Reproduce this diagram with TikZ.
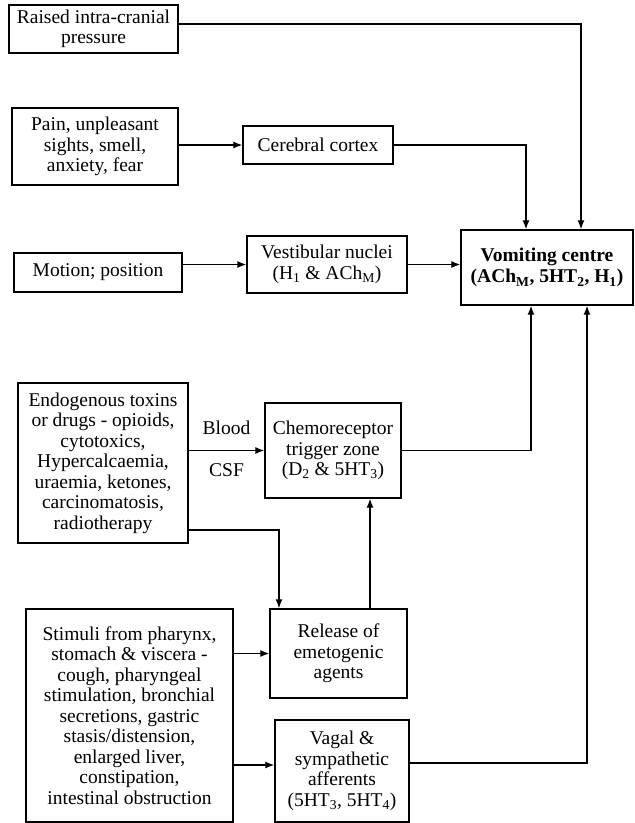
\documentclass[tikz,border=0pt]{standalone}
\usepackage{fontspec}
\setmainfont{Liberation Serif}
\usetikzlibrary{arrows.meta,calc}
\begin{document}
\begin{tikzpicture}[x=1pt,y=-1pt,
  box/.style={draw, line width=1.4pt, align=center, inner sep=2pt, font=\fontsize{19.5}{20.5}\selectfont},
  arr/.style={line width=1.3pt, -{Latex[length=9pt,width=7pt]}},
  lbl/.style={font=\fontsize{19.5}{20.5}\selectfont, inner sep=0pt}]
\useasboundingbox (0,0) rectangle (635,823);
\node[box, minimum width=169pt, minimum height=48pt] (raised) at (93.5,29) {Raised intra-cranial\\pressure};
\node[box, minimum width=166pt, minimum height=77pt] (pain) at (95,146.5) {Pain, unpleasant\\sights, smell,\\anxiety, fear};
\node[box, minimum width=150pt, minimum height=38pt] (cortex) at (318,145) {Cerebral cortex};
\node[box, minimum width=168pt, minimum height=39pt] (motion) at (98,272.5) {Motion; position};
\node[box, minimum width=160pt, minimum height=57pt] (vest) at (327,264.5) {Vestibular nuclei\\(H\textsubscript{1} \& ACh\textsubscript{M})};
\node[box, minimum width=172pt, minimum height=75pt, font=\fontsize{19.5}{21.5}\selectfont\bfseries] (vomit) at (547,267.5) {Vomiting centre\\(ACh\textsubscript{M}, 5HT\textsubscript{2}, H\textsubscript{1})};
\node[box, minimum width=170pt, minimum height=160pt] (endo) at (103,463) {Endogenous toxins\\or drugs - opioids,\\cytotoxics,\\Hypercalcaemia,\\uraemia, ketones,\\carcinomatosis,\\radiotherapy};
\node[box, minimum width=136pt, minimum height=95pt] (ctz) at (333,450.5) {Chemoreceptor\\trigger zone\\(D\textsubscript{2} \& 5HT\textsubscript{3})};
\node[box, minimum width=137pt, minimum height=89pt] (release) at (338.5,653.5) {Release of\\emetogenic\\agents};
\node[box, minimum width=207pt, minimum height=213pt] (stimuli) at (129.5,715.5) {Stimuli from pharynx,\\stomach \& viscera -\\cough, pharyngeal\\stimulation, bronchial\\secretions, gastric\\stasis/distension,\\enlarged liver,\\constipation,\\intestinal obstruction};
\node[box, minimum width=134pt, minimum height=102pt] (vagal) at (342,771) {Vagal \&\\sympathetic\\afferents\\(5HT\textsubscript{3}, 5HT\textsubscript{4})};

\coordinate (bc) at ($(endo.east |- ctz.west)!0.5!(ctz.west)$);
\node[lbl] (blood) at ([yshift=22.5pt]bc) {Blood};
\node[lbl] (csf) at ([yshift=-19.5pt]bc) {CSF};

\draw[arr] ([yshift=5pt]raised.east) -| ([xshift=34pt]vomit.north);
\draw[arr] (pain.east |- cortex.west) -- (cortex.west);
\draw[arr] (cortex.east) -| ([xshift=-21pt]vomit.north);
\draw[arr] (motion.east |- vest.west) -- (vest.west);
\draw[arr] (vest.east) -- (vest.east -| vomit.west);
\draw[arr] (endo.east |- ctz.west) -- (ctz.west);
\draw[arr] (ctz.east) -| ([xshift=-16pt]vomit.south);
\draw[arr] ([yshift=-67pt]endo.east) -| ([xshift=-59.5pt]release.north);
\draw[arr] ([xshift=31.5pt]release.north) -- ([xshift=31.5pt]release.north |- ctz.south);
\draw[arr] (stimuli.east |- release.west) -- (release.west);
\draw[arr] ([yshift=6pt]vagal.west -| stimuli.east) -- ([yshift=6pt]vagal.west);
\draw[arr] ([yshift=8pt]vagal.east) -| ([xshift=40pt]vomit.south);
\end{tikzpicture}
\end{document}
